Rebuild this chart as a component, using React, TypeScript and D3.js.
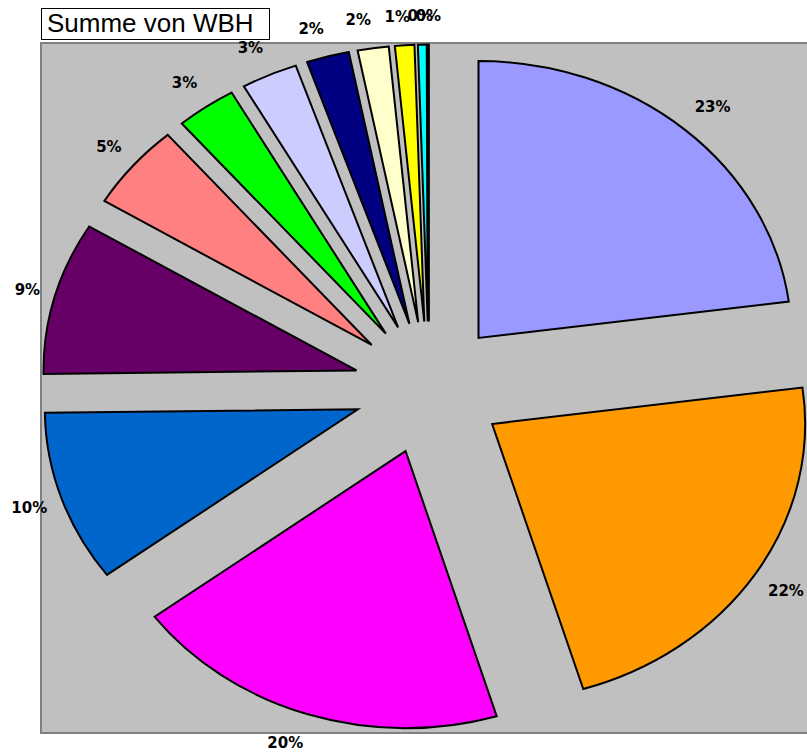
import React, { useEffect, useRef } from 'react';
import * as d3 from 'd3';

// Anteile je Kategorie (in Prozent, aus dem Bild geschätzt)
const categories = ['A', 'B', 'C', 'D', 'E', 'F', 'G', 'H', 'I', 'J', 'K', 'L', 'M'];
const values = [22.9, 22.4, 19.5, 10.0, 8.9, 5.0, 3.1, 2.9, 2.2, 1.6, 1.0, 0.45, 0.05];
const colors = [
  '#9999ff', '#ff9900', '#ff00ff', '#0066cc', '#660066', '#ff8080', '#00ff00',
  '#ccccff', '#000080', '#ffffcc', '#ffff00', '#00ffff', '#800000',
];

const W = 807;
const H = 753;

const PieChart: React.FC = () => {
  const svgRef: any = useRef<SVGSVGElement>(null);

  useEffect(() => {
    if (!svgRef.current) return;
    const svg = d3.select(svgRef.current);
    svg.selectAll('*').remove();

    const plot = { x: 41, y: 43, w: 780, h: 690 };
    const cx = 429;
    const cy = 388;
    const ry = 277;
    const rx = 313;
    const sx = rx / ry;
    const explode = 0.24 * ry;

    // Hintergrund der Zeichenfläche
    svg.append('rect')
      .attr('x', plot.x)
      .attr('y', plot.y)
      .attr('width', plot.w)
      .attr('height', plot.h)
      .attr('fill', '#c0c0c0')
      .attr('stroke', '#808080')
      .attr('stroke-width', 2);

    const total = d3.sum(values);
    const pie = d3.pie<number>().sort(null).value(d => d);
    const arcs = pie(values);
    const arc = d3.arc<any>().innerRadius(0).outerRadius(ry);

    const g = svg.append('g')
      .attr('transform', `translate(${cx},${cy}) scale(${sx},1)`);

    g.selectAll('path')
      .data(arcs)
      .join('path')
      .attr('transform', d => {
        const m = (d.startAngle + d.endAngle) / 2;
        return `translate(${Math.sin(m) * explode},${-Math.cos(m) * explode})`;
      })
      .attr('d', arc)
      .attr('fill', (d, i) => colors[i])
      .attr('stroke', '#000')
      .attr('stroke-width', 2)
      .attr('stroke-linejoin', 'miter')
      .attr('vector-effect', 'non-scaling-stroke');

    // Beschriftungen außerhalb der Segmente
    const clamp = (v: number) => Math.max(-1, Math.min(1, v));
    const labels = svg.append('g');
    arcs.forEach((d, i) => {
      const m = (d.startAngle + d.endAngle) / 2;
      const s = Math.sin(m);
      const c = Math.cos(m);
      const ax = cx + s * (explode * sx + rx + 15);
      const ay = cy - c * (explode + ry + 22);
      const t = labels.append('text')
        .attr('text-anchor', 'middle')
        .attr('font-family', 'DejaVu Sans, sans-serif')
        .attr('font-weight', 'bold')
        .attr('font-size', 15)
        .attr('fill', '#000')
        .text(`${Math.round((values[i] / total) * 100)}%`);
      const w = (t.node() as SVGTextElement).getComputedTextLength();
      const px = ax + (w / 2) * clamp(s * 8);
      const py = ay + 7 * clamp(-c * 1.2);
      t.attr('x', px).attr('y', py + 5.5);
    });

    // Titel
    svg.append('rect')
      .attr('x', 41.5)
      .attr('y', 8.5)
      .attr('width', 228)
      .attr('height', 31)
      .attr('fill', '#fff')
      .attr('stroke', '#000')
      .attr('stroke-width', 1);
    svg.append('text')
      .attr('x', 47)
      .attr('y', 32)
      .attr('font-family', 'Liberation Sans, Arial, sans-serif')
      .attr('font-size', 26)
      .attr('fill', '#000')
      .text('Summe von WBH');
  }, []);

  return <svg ref={svgRef} width={W} height={H} style={{ display: 'block' }}></svg>;
};

const App = () => {
  return (
    <div style={{ position: 'absolute', left: 0, top: 0, width: W, height: H, overflow: 'hidden' }}>
      <PieChart />
    </div>
  );
};

export default App;
